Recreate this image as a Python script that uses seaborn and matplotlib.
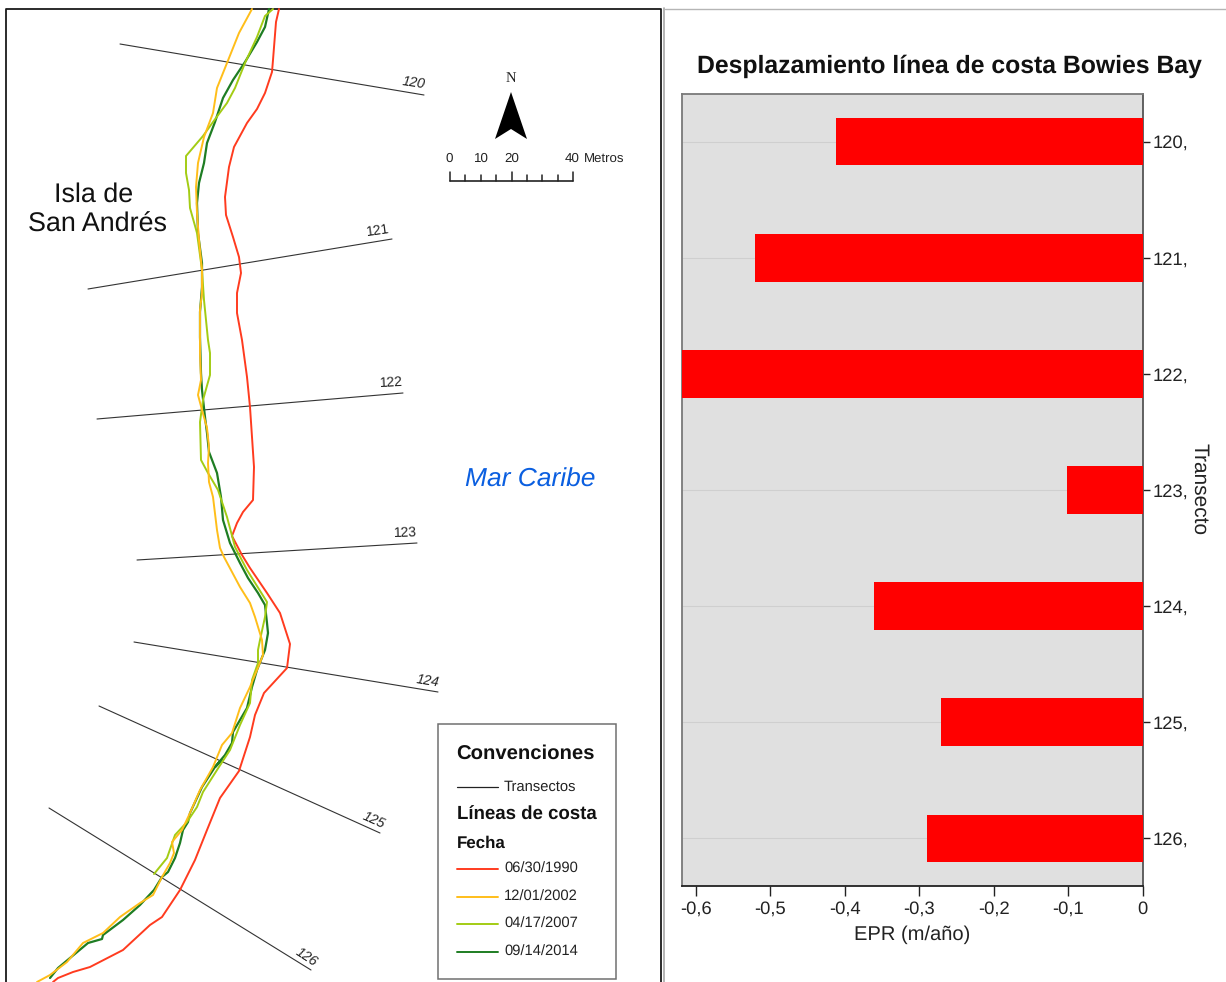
import matplotlib
matplotlib.use("Agg")
from matplotlib import pyplot as plt
from matplotlib.patches import Polygon, Rectangle
import seaborn as sns
import pandas as pd

W, H = 1226, 982

# bar chart values
transectos = ['120,', '121,', '122,', '123,', '124,', '125,', '126,']
epr = [-0.412, -0.52, -0.62, -0.102, -0.36, -0.27, -0.29]
x_ticks = [-0.6, -0.5, -0.4, -0.3, -0.2, -0.1, 0]
x_tick_labels = ['-0,6', '-0,5', '-0,4', '-0,3', '-0,2', '-0,1', '0']

# shorelines, in image pixels
costa_1990_x = [279, 276, 273, 272, 265, 257, 247, 234, 229, 225, 226, 233, 239, 241, 237, 237, 242, 247, 250, 252, 254, 253, 243, 237, 232, 242, 250, 267, 280, 290, 289, 287, 264, 255, 250, 239, 220, 207, 195, 180, 162, 150, 123, 90, 73, 58, 53]
costa_1990_y = [9, 22, 60, 72, 93, 109, 123, 147, 167, 197, 215, 237, 257, 273, 293, 313, 340, 377, 407, 437, 467, 500, 512, 523, 536, 555, 568, 593, 613, 644, 652, 668, 693, 715, 737, 771, 798, 830, 860, 890, 917, 925, 950, 967, 972, 978, 982]
costa_2002_x = [252, 239, 227, 217, 213, 204, 198, 196, 197, 199, 202, 202, 200, 200, 200, 201, 198, 202, 207, 209, 208, 209, 213, 217, 220, 224, 240, 250, 255, 262, 263, 257, 250, 240, 232, 222, 213, 200, 190, 182, 172, 174, 170, 162, 153, 140, 120, 103, 83, 67, 50, 37]
costa_2002_y = [9, 33, 63, 88, 113, 137, 163, 187, 213, 240, 270, 293, 310, 340, 353, 380, 395, 410, 428, 447, 463, 482, 497, 530, 548, 557, 587, 603, 617, 640, 655, 670, 687, 708, 733, 745, 767, 790, 813, 830, 842, 853, 863, 877, 895, 903, 917, 933, 943, 962, 975, 982]
costa_2007_x = [273, 265, 257, 245, 235, 227, 213, 203, 186, 186, 189, 190, 197, 202, 204, 208, 210, 210, 203, 200, 201, 208, 218, 227, 235, 247, 267, 265, 260, 258, 258, 252, 250, 240, 230, 217, 203, 197, 187, 175, 167, 154]
costa_2007_y = [9, 16, 37, 63, 88, 103, 122, 136, 156, 173, 190, 208, 233, 270, 300, 340, 353, 375, 400, 422, 460, 473, 490, 517, 547, 570, 602, 617, 640, 650, 663, 680, 703, 725, 750, 770, 792, 807, 822, 835, 858, 874]
costa_2014_x = [269, 265, 257, 245, 233, 223, 215, 207, 204, 199, 197, 198, 202, 202, 200, 200, 201, 202, 205, 207, 209, 217, 221, 223, 230, 240, 248, 258, 265, 267, 268, 265, 257, 252, 247, 233, 232, 225, 215, 222, 215, 202, 190, 188, 183, 180, 175, 168, 162, 154, 140, 123, 103, 102, 88, 70, 58, 50]
costa_2014_y = [9, 27, 42, 62, 80, 98, 122, 143, 163, 183, 203, 233, 263, 287, 312, 337, 373, 390, 417, 433, 452, 473, 497, 520, 543, 563, 578, 593, 605, 623, 633, 650, 670, 687, 708, 732, 743, 755, 767, 760, 767, 787, 813, 822, 830, 843, 858, 872, 877, 890, 905, 920, 935, 939, 943, 958, 968, 978]

# transect ends and labels
transecto_nombres = ['120', '121', '122', '123', '124', '125', '126']
transecto_x = [(120, 424), (88, 392), (97, 403), (137, 417), (134, 438), (99, 380), (49, 311)]
transecto_y = [(44, 95), (289, 239), (419, 393), (560, 543), (642, 692), (706, 833), (808, 970)]
etiqueta_x = [414, 378, 391, 405, 428, 374, 306]
etiqueta_y = [83, 231, 383, 533, 681, 820, 957]
etiqueta_rot = [-8, 8, 3, 2, -9, -24, -33]

ROJO = '#ff3b1f'
NARANJA = '#ffbe1a'
VERDE_CLARO = '#a3cc14'
VERDE = '#1e7d23'

sns.set_theme(style='white')
plt.rcParams['font.family'] = ['Liberation Sans', 'DejaVu Sans']
plt.rcParams['text.hinting'] = 'none'

fig = plt.figure(figsize=(W / 100, H / 100), dpi=100, facecolor='white')

# map panel, drawn in image pixels over the whole figure
mapa = fig.add_axes([0, 0, 1, 1])
mapa.set_xlim(0, W)
mapa.set_ylim(H, 0)
mapa.axis('off')

mapa.plot([664.5, W], [8.5, 8.5], color='#b5b5b5', lw=1.0)
mapa.plot([6, 6, 661, 661], [982, 8.5, 8.5, 982], color='#1a1a1a', lw=1.3)
mapa.plot([663.5, 663.5], [8, 982], color='#a8a8a8', lw=1.2)

for x, y in zip(transecto_x, transecto_y):
    mapa.plot(x, y, color='#333333', lw=0.8)
for nombre, x, y, rot in zip(transecto_nombres, etiqueta_x, etiqueta_y, etiqueta_rot):
    mapa.text(x, y, nombre, fontsize=10, rotation=rot, color='#222222', ha='center', va='center',
              style='normal' if nombre in ('121', '122', '123') else 'italic', rotation_mode='anchor')

mapa.plot(costa_1990_x, costa_1990_y, color=ROJO, lw=1.4)
mapa.plot(costa_2014_x, costa_2014_y, color=VERDE, lw=1.6)
mapa.plot(costa_2007_x, costa_2007_y, color=VERDE_CLARO, lw=1.4)
mapa.plot(costa_2002_x, costa_2002_y, color=NARANJA, lw=1.4)

mapa.text(94, 195, 'Isla de', fontsize=19.4, ha='center', va='center', color='#111111')
mapa.text(97, 225, 'San Andrés', fontsize=19.4, ha='center', va='center', color='#111111')
mapa.text(530, 480, 'Mar Caribe', fontsize=19, style='italic', ha='center', va='center', color='#0b5fe0')

# north arrow and scale bar
mapa.text(511, 78, 'N', fontsize=10.5, family='Liberation Serif', ha='center', va='center', color='#222222')
mapa.add_patch(Polygon([(511, 92), (527, 139), (511, 129), (495, 139)], closed=True, color='black', lw=0))
for lab, x in zip(['0', '10', '20', '40'], [449, 481, 512, 572]):
    mapa.text(x, 159, lab, fontsize=9.6, ha='center', va='center', color='#222222')
mapa.text(584, 160, 'Metros', fontsize=9.5, ha='left', va='center', color='#222222')
mapa.plot([449.5, 573], [180.5, 180.5], color='#222222', lw=1.2)
for i, x in enumerate([449.5, 465, 480.5, 496, 511.5, 527, 542, 557.5, 573]):
    largo = 9 if i in (0, 4, 8) else 6
    mapa.plot([x, x], [180.5, 180.5 - largo], color='#222222', lw=1.1)

# legend box
mapa.add_patch(Rectangle((438, 724), 178, 255, fc='white', ec='#707070', lw=1.1, zorder=3))
mapa.text(456, 754, 'Convenciones', fontsize=14.6, weight='bold', va='center', color='#111111', zorder=4)
mapa.text(457, 815, 'Líneas de costa', fontsize=13.4, weight='bold', va='center', color='#111111', zorder=4)
mapa.text(457, 843, 'Fecha', fontsize=12.2, weight='bold', va='center', color='#111111', zorder=4)
mapa.plot([457, 498], [786.5, 786.5], color='#222222', lw=0.9, zorder=4)
mapa.text(504, 787, 'Transectos', fontsize=10.6, va='center', color='#222222', zorder=4)
fechas = ['06/30/1990', '12/01/2002', '04/17/2007', '09/14/2014']
for fecha, col, y in zip(fechas, [ROJO, NARANJA, VERDE_CLARO, VERDE], [869, 897, 924, 952]):
    mapa.plot([457, 498], [y, y], color=col, lw=1.4, zorder=4)
    mapa.text(504, y, fecha, fontsize=10.6, va='center', color='#222222', zorder=4)

# bar chart panel
ax = fig.add_axes([682 / W, 1 - 886 / H, (1142.5 - 682) / W, (886 - 94) / H])
ax.set_facecolor('#e0e0e0')
df = pd.DataFrame({'transecto': transectos, 'epr': epr})
sns.barplot(data=df, x='epr', y='transecto', orient='h', color='#ff0000', saturation=1, width=0.41,
            edgecolor='none', ax=ax, zorder=3)
ax.set_xlim(-0.6185, 0)
ax.set_ylim(6.41, -0.41)
ax.grid(axis='y', color='#cfcfcf', lw=0.8, zorder=1)
ax.grid(axis='x', visible=False)
ax.set_axisbelow(True)

ax.yaxis.tick_right()
ax.yaxis.set_label_position('right')
ax.set_xticks(x_ticks)
ax.set_xticklabels(x_tick_labels)
ax.tick_params(axis='x', bottom=True, length=7, width=1, color='#222222', labelsize=13.2, labelcolor='#222222', pad=3.5)
ax.tick_params(axis='y', right=True, left=False, length=5, width=1, color='#222222', labelsize=13.2, labelcolor='#222222', pad=2)
ax.set_xlabel('EPR (m/año)', fontsize=14.5, color='#222222', labelpad=5.5)
ax.set_ylabel('Transecto', fontsize=15, color='#222222', rotation=270, va='center')
ax.yaxis.set_label_coords(1.1227, 0.501)
ax.spines['left'].set_color('#7a7a7a')
ax.spines['top'].set_color('#7a7a7a')
ax.spines['right'].set_color('#555555')
ax.spines['bottom'].set_color('#222222')
for s in ax.spines.values():
    s.set_linewidth(1.3)

fig.text(949 / W, 1 - 66 / H, 'Desplazamiento línea de costa Bowies Bay', fontsize=17.8, weight='bold',
         ha='center', va='center', color='#111111')

fig.savefig('out.png', dpi=100)
